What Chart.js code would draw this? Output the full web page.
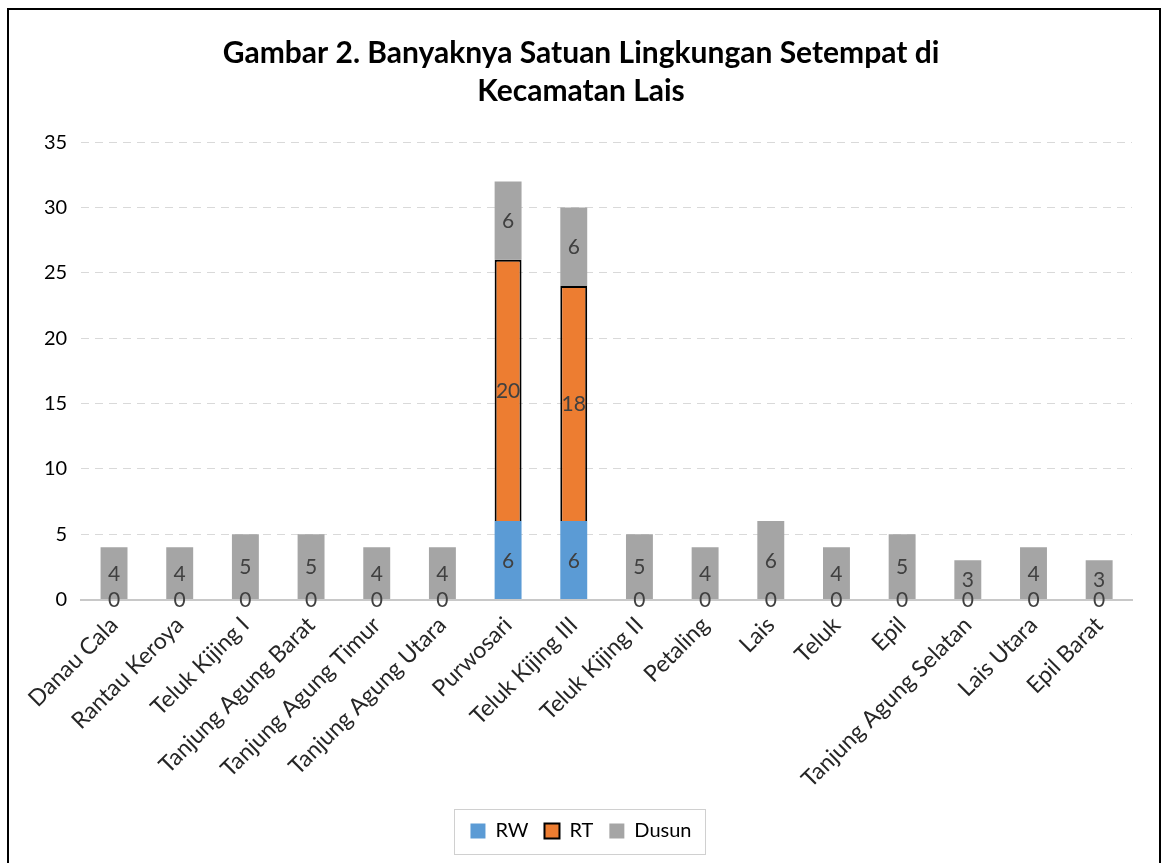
<!DOCTYPE html>
<html>
<head>
<meta charset="utf-8">
<script src="https://cdn.jsdelivr.net/npm/chart.js@4/dist/chart.umd.min.js"></script>
<style>
    body { margin:0; background:#fff; }
    #wrap { position:relative; width:1162px; height:863px; overflow:hidden; }
    #frame { position:absolute; left:7px; top:8px; width:1154px; height:900px; border:2px solid #000; box-sizing:border-box; pointer-events:none; }
    canvas { position:absolute; left:0; top:0; }
</style>
</head>
<body>
<div id="wrap">
    <canvas id="chart" width="1162" height="863"></canvas>
    <div id="frame"></div>
</div>
<script>
const categories=[
    "Danau Cala","Rantau Keroya","Teluk Kijing I","Tanjung Agung Barat",
    "Tanjung Agung Timur","Tanjung Agung Utara","Purwosari","Teluk Kijing III",
    "Teluk Kijing II","Petaling","Lais","Teluk","Epil",
    "Tanjung Agung Selatan","Lais Utara","Epil Barat"
];
const rw=[0,0,0,0,0,0,6,6,0,0,0,0,0,0,0,0];
const rt=[0,0,0,0,0,0,20,18,0,0,0,0,0,0,0,0];
const dusun=[4,4,5,5,4,4,6,6,5,4,6,4,5,3,4,3];
const yTicks=[0,5,10,15,20,25,30,35];

const FONT="Lato, 'Open Sans', sans-serif";

// labels inside bars, like the spreadsheet data labels
const barLabels={
    id:"barLabels",
    afterDatasetsDraw(chart) {
        let ctx=chart.ctx;
        ctx.save();
        ctx.font="21px "+FONT;
        ctx.fillStyle="#404040";
        ctx.textAlign="center";
        ctx.textBaseline="middle";
        chart.data.datasets.forEach((ds,i)=>{
            let meta=chart.getDatasetMeta(i);
            meta.data.forEach((bar,j)=>{
                let v=ds.data[j];
                if (i==1 && v==0) return;
                let y=(bar.y+bar.base)/2;
                ctx.fillText(String(v),bar.x,y+1);
            });
        });
        ctx.restore();
    }
};

// frame around the legend items
const legendBox={
    id:"legendBox",
    afterDraw(chart) {
        let boxes=chart.legend.legendHitBoxes;
        if (!boxes||!boxes.length) return;
        let l=Math.min(...boxes.map(b=>b.left)),
            r=Math.max(...boxes.map(b=>b.left+b.width)),
            t=Math.min(...boxes.map(b=>b.top)),
            b=Math.max(...boxes.map(b=>b.top+b.height));
        let ctx=chart.ctx;
        ctx.save();
        ctx.strokeStyle="#d0d0d0";
        ctx.lineWidth=1;
        ctx.strokeRect(Math.round(l-16)+0.5,Math.round(t-12)+0.5,Math.round(r-l+30),Math.round(b-t+25));
        ctx.restore();
    }
};

new Chart(document.getElementById("chart"),{
    type:"bar",
    data:{
        labels:categories,
        datasets:[
            {label:"RW",data:rw,backgroundColor:"#5b9bd5",borderWidth:0},
            {label:"RT",data:rt,backgroundColor:"#ed7d31",borderColor:"#000",
             borderWidth:ctx=>ctx.raw>0?2:0},
            {label:"Dusun",data:dusun,backgroundColor:"#a5a5a5",borderWidth:0}
        ]
    },
    options:{
        responsive:false,
        animation:false,
        layout:{padding:{left:30,right:30,top:34,bottom:12}},
        datasets:{bar:{barPercentage:0.41,categoryPercentage:1}},
        scales:{
            x:{
                stacked:true,
                grid:{display:false,drawTicks:false},
                border:{color:"#c8c8c8",width:2},
                ticks:{color:"#262626",font:{family:FONT,size:23},minRotation:45,maxRotation:45,padding:12}
            },
            y:{
                stacked:true,
                min:0,max:35,
                afterBuildTicks(axis){ axis.ticks=yTicks.map(v=>({value:v})); },
                grid:{color:"#d9d9d9",lineWidth:1,drawTicks:false},
                border:{display:false,dash:[8,6]},
                ticks:{color:"#000",font:{family:FONT,size:20},padding:14}
            }
        },
        plugins:{
            title:{
                display:true,
                text:["Gambar 2. Banyaknya Satuan Lingkungan Setempat di","Kecamatan Lais"],
                color:"#000",
                font:{family:FONT,size:30,weight:"bold",lineHeight:1.27},
                padding:{top:0,bottom:32}
            },
            legend:{
                position:"bottom",
                labels:{
                    color:"#404040",
                    font:{family:FONT,size:20},
                    boxWidth:15,boxHeight:15,padding:16,
                    generateLabels(chart){
                        return chart.data.datasets.map((ds,i)=>({
                            text:ds.label,
                            fillStyle:ds.backgroundColor,
                            strokeStyle:i==1?"#000":ds.backgroundColor,
                            lineWidth:i==1?2:0,
                            datasetIndex:i
                        }));
                    }
                }
            },
            tooltip:{enabled:false}
        }
    },
    plugins:[barLabels,legendBox]
});
</script>
</body>
</html>
